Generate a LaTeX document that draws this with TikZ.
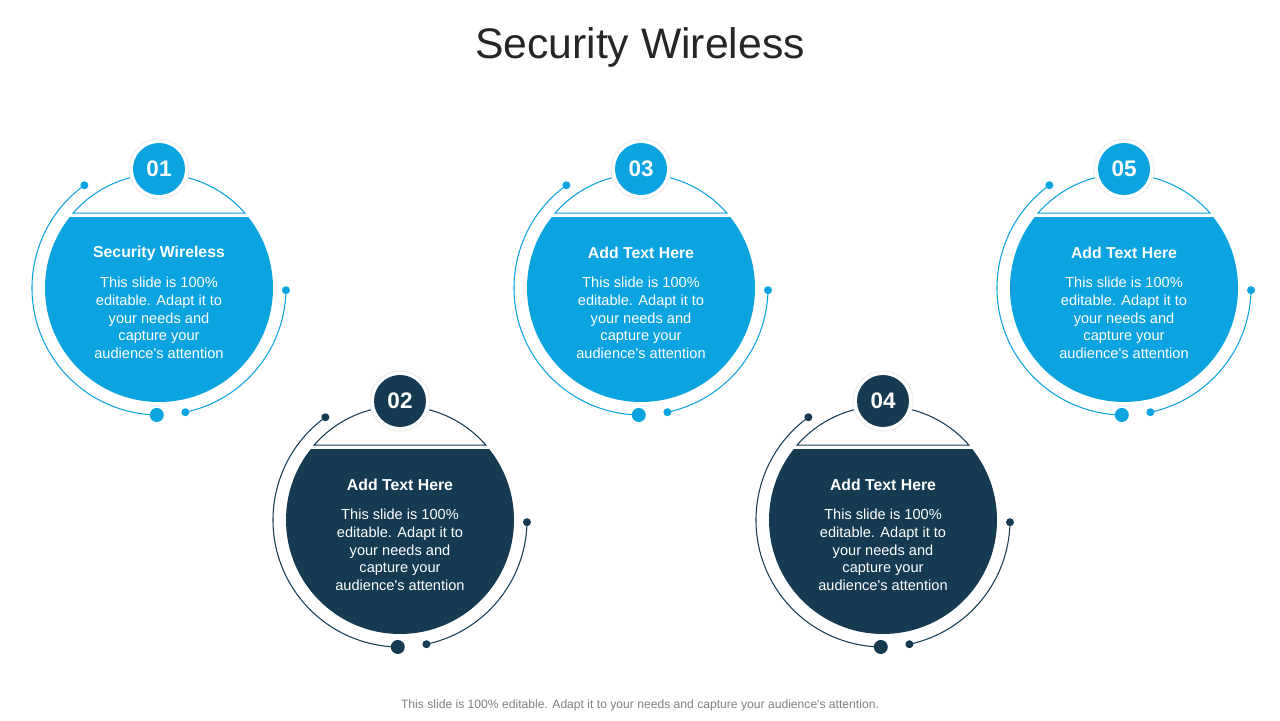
\documentclass[tikz,border=0pt]{standalone}
\usepackage{fontspec}
\setmainfont{Liberation Sans}[Ligatures=TeXOff]
\usetikzlibrary{positioning}
\definecolor{skyblue}{HTML}{0BA3E0}
\definecolor{navy}{HTML}{153A52}
\definecolor{titlegray}{HTML}{262626}
\definecolor{footgray}{HTML}{7F7F7F}

\begin{document}
\begin{tikzpicture}[
  x=0.02cm, y=0.02cm,
  ring/.style={line width=0.6pt},
  halo/.style={circle, fill=white, draw=black!8, line width=0.5pt, minimum size=1.2cm, inner sep=0pt},
  num/.style={circle, minimum size=1.04cm, inner sep=0pt, text=white, font=\fontsize{12.8}{14}\selectfont\bfseries},
  head/.style={text=white, font=\fontsize{9}{11}\selectfont\bfseries},
  body/.style={text=white, align=center, font=\fontsize{8.3}{10.1}\selectfont},
]
  \useasboundingbox (0,0) rectangle (1280,720);
  \node[text=titlegray, font=\fontsize{24.3}{28}\selectfont] (title) at (640,673) {Security Wireless};

  \foreach \i/\cx/\cy/\col/\txt in {1/159/432/skyblue/Security Wireless,
      2/400/200/navy/Add Text Here, 3/641/432/skyblue/Add Text Here,
      4/883/200/navy/Add Text Here, 5/1124/432/skyblue/Add Text Here}
  {
    \begin{scope}[shift={(\cx,\cy)}]
      % disc, cut below the cap
      \begin{scope}
        \clip (-120,-120) rectangle (120,70);
        \fill[\col] (0,0) circle (114);
      \end{scope}
      \draw[\col, ring] (41.1:114) arc (41.1:138.9:114) -- cycle;
      % outer ring and dots
      \draw[\col, ring] (126:127) arc (126:269:127);
      \draw[\col, ring] (-78:127) arc (-78:-1:127);
      \fill[\col] (126:127) circle (4) (-78:127) circle (4) (-1:127) circle (4);
      \fill[\col] (269:127) circle (7);
      % number badge
      \node[halo] (halo\i) at (0,119) {};
      \node[num, fill=\col] (num\i) at (0,119) {0\i};
      \node[head] (head\i) at (0,35) {\txt};
      \node[body] (body\i) at (0,-30) {This slide is 100\%\\ editable. Adapt it to\\ your needs and\\ capture your\\ audience's attention};
    \end{scope}
  }

  \node[text=footgray, font=\fontsize{6.9}{8}\selectfont] (foot) at (640,15)
    {This slide is 100\% editable. Adapt it to your needs and capture your audience's attention.};
\end{tikzpicture}
\end{document}
